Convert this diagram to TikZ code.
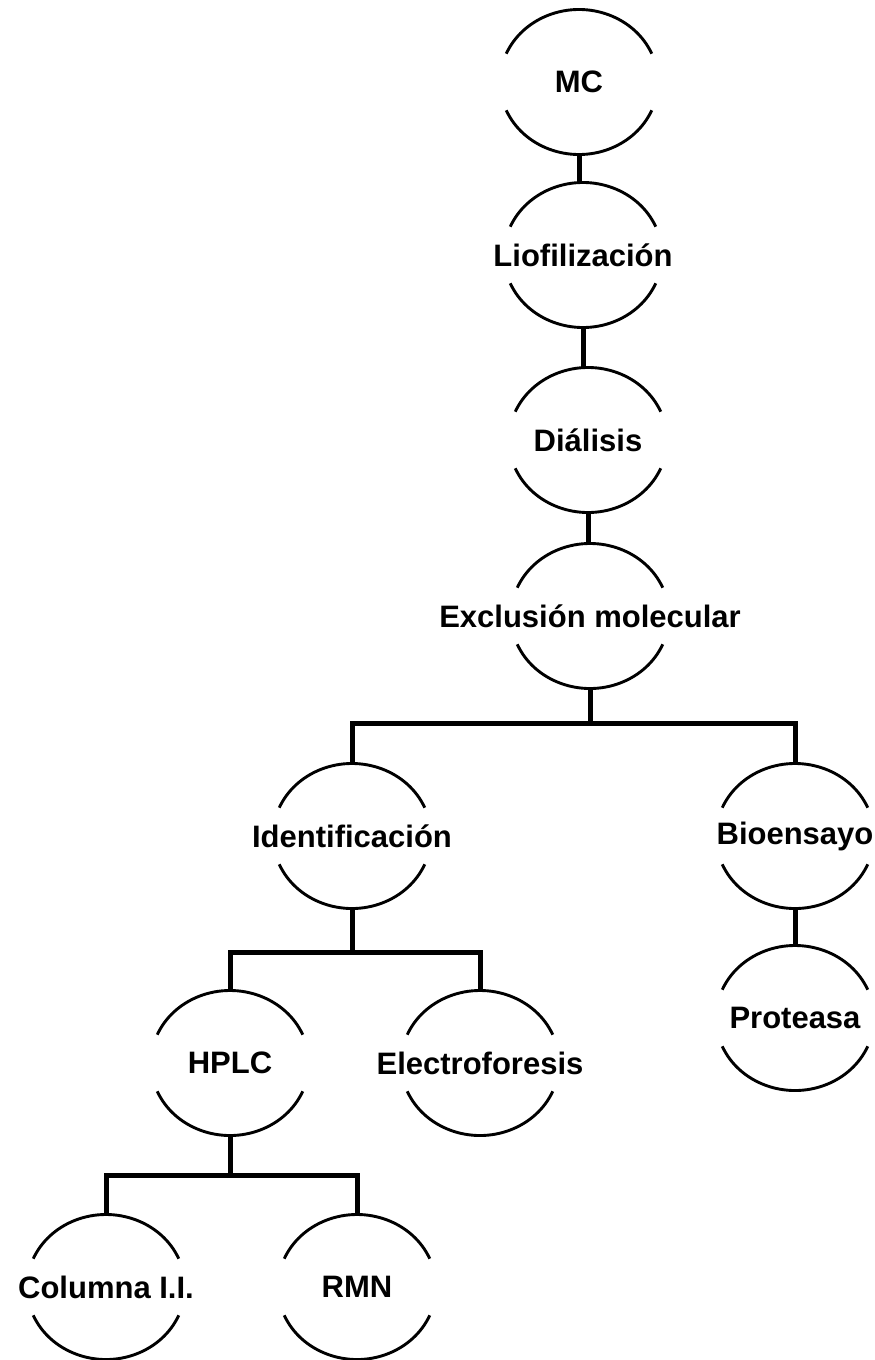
\documentclass[tikz,border=0pt]{standalone}
\usepackage{fontspec}
\setmainfont{Liberation Sans}
\usetikzlibrary{positioning, shapes.geometric}

\begin{document}
\begin{tikzpicture}[
    stage/.style={ellipse, minimum width=158pt, minimum height=145pt, inner sep=0pt, outer sep=0pt,
        font=\fontsize{31}{36}\selectfont\bfseries,
        execute at begin node=\hbox to 0pt\bgroup\hss, execute at end node=\hss\egroup},
    rim/.style={line width=2.9pt, draw=black},
    link/.style={line width=5pt, draw=black}
]
    \useasboundingbox (0,0) rectangle (875pt,-1360pt);

    \node[stage] (mc) at (579pt,-82pt) {MC};
    \node[stage, below=28pt of mc, xshift=4pt] (lio) {Liofilización};
    \node[stage, below=40pt of lio, xshift=5pt] (dia) {Diálisis};
    \node[stage, below=31pt of dia, xshift=2pt] (exc) {Exclusión molecular};

    \node[stage, below=75pt of exc, xshift=-238pt] (ide) {Identificación};
    \node[stage, right=285pt of ide] (bio) {Bioensayo};
    \node[stage, below=37pt of bio] (pro) {Proteasa};

    \node[stage, below=82pt of ide, xshift=-122pt] (hplc) {HPLC};
    \node[stage, right=92pt of hplc] (ele) {Electroforesis};

    \node[stage, below=79pt of hplc, xshift=-124pt] (col) {Columna I.I.};
    \node[stage, right=93pt of col] (rmn) {RMN};

    \foreach \n in {mc, lio, dia, exc, ide, bio, pro, hplc, ele, col, rmn} {
        \draw[rim] ([shift={(23:79pt and 72.5pt)}]\n.center) arc[start angle=23, end angle=157, x radius=79pt, y radius=72.5pt];
        \draw[rim] ([shift={(203:79pt and 72.5pt)}]\n.center) arc[start angle=203, end angle=337, x radius=79pt, y radius=72.5pt];
    }

    \draw[link] (mc.south) -- (mc.south |- lio.north);
    \draw[link] (lio.south) -- (lio.south |- dia.north);
    \draw[link] (dia.south) -- (dia.south |- exc.north);

    \draw[link] (exc.south) -- ++(0,-35pt) coordinate (excsplit);
    \draw[link] (ide.north) |- (excsplit) -| (bio.north);
    \draw[link] (bio) -- (pro);

    \draw[link] (ide.south) -- ++(0,-44pt) coordinate (idesplit);
    \draw[link] (hplc.north) |- (idesplit) -| (ele.north);

    \draw[link] (hplc.south) -- ++(0,-40pt) coordinate (hplcsplit);
    \draw[link] (col.north) |- (hplcsplit) -| (rmn.north);
\end{tikzpicture}
\end{document}
